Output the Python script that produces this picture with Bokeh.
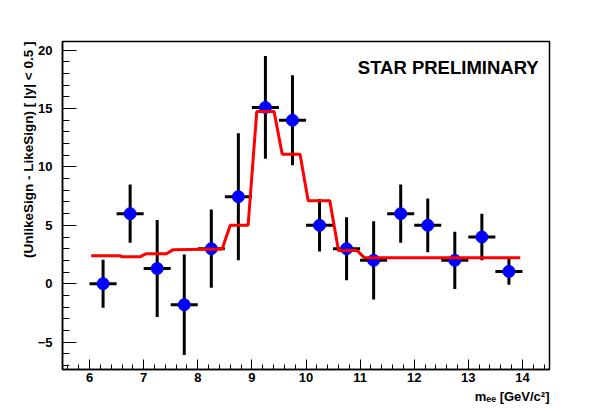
import math
from bokeh.plotting import figure
from bokeh.models import ColumnDataSource, Label, SingleIntervalTicker, Range1d, Title
from bokeh.embed import file_html
from bokeh.resources import INLINE

# ---- data ----
bin_centers = [6.25, 6.75, 7.25, 7.75, 8.25, 8.75, 9.25, 9.75,
               10.25, 10.75, 11.25, 11.75, 12.25, 12.75, 13.25, 13.75]
signal = [0.0, 6.0, 1.3, -1.8, 3.0, 7.45, 15.1, 14.0,
          5.0, 3.0, 2.0, 6.0, 5.0, 2.0, 4.0, 1.05]
signal_err = [2.05, 2.5, 4.15, 4.3, 3.35, 5.45, 4.4, 3.85,
              2.25, 2.7, 3.35, 2.5, 2.3, 2.45, 2.0, 1.15]
bin_half_width = 0.25

fit_x = [6.03, 6.56, 6.6, 6.93, 7.05, 7.42, 7.54, 8.45, 8.6, 8.93,
         9.09, 9.41, 9.56, 9.89, 10.04, 10.44, 10.6, 10.94, 11.08, 13.96]
fit_y = [2.4, 2.4, 2.3, 2.3, 2.57, 2.57, 2.9, 2.97, 5.0, 5.0,
         14.75, 14.75, 11.1, 11.1, 7.1, 7.1, 2.85, 2.85, 2.23, 2.23]

x_min, x_max = 5.5, 14.5
y_min, y_max = -7.35, 20.75

x_title = "m\u2091\u2091 [GeV/c\u00b2]"
y_title = "(UnlikeSign - LikeSign) [ |y| < 0.5 ]"

FONT = "Liberation Sans"

src = ColumnDataSource(dict(
    x=bin_centers,
    y=signal,
    ylo=[v - e for v, e in zip(signal, signal_err)],
    yhi=[v + e for v, e in zip(signal, signal_err)],
    xlo=[c - bin_half_width for c in bin_centers],
    xhi=[c + bin_half_width for c in bin_centers],
))

p = figure(width=611, height=411, output_backend="svg", toolbar_location=None,
           x_range=Range1d(x_min, x_max), y_range=Range1d(y_min, y_max),
           min_border_left=62, min_border_right=62,
           min_border_top=41, min_border_bottom=42)
p.background_fill_color = "white"
p.border_fill_color = "white"
p.outline_line_color = "black"
p.outline_line_width = 1.5
p.xgrid.visible = False
p.ygrid.visible = False

# axes
p.xaxis.ticker = SingleIntervalTicker(interval=1, num_minor_ticks=5)
p.yaxis.ticker = SingleIntervalTicker(interval=5, num_minor_ticks=5)
for ax in (p.xaxis[0], p.yaxis[0]):
    ax.axis_line_color = "black"
    ax.axis_line_width = 1.5
    ax.major_tick_line_color = "black"
    ax.minor_tick_line_color = "black"
    ax.major_tick_out = 0
    ax.minor_tick_out = 0
    ax.major_label_text_font = FONT
    ax.major_label_text_font_style = "bold"
    ax.major_label_text_font_size = "13px"
    ax.major_label_text_color = "black"
p.xaxis.major_tick_in = 10
p.xaxis.minor_tick_in = 5
p.xaxis.major_label_standoff = 3
p.yaxis.major_tick_in = 14
p.yaxis.minor_tick_in = 7
p.yaxis.major_label_standoff = 10

# axis titles (right/top aligned as in the reference)
p.add_layout(Title(text=y_title, align="right", standoff=-3, text_font=FONT,
                   text_font_style="bold", text_font_size="13.5px",
                   text_color="black"), "left")
p.add_layout(Title(text=x_title, align="right", standoff=4, text_font=FONT,
                   text_font_style="bold", text_font_size="13px",
                   text_color="black"), "below")

# error bars
p.segment(x0="x", y0="ylo", x1="x", y1="yhi", source=src, line_color="black", line_width=3)
p.segment(x0="xlo", y0="y", x1="xhi", y1="y", source=src, line_color="black", line_width=3)
# markers
p.scatter(x="x", y="y", source=src, size=12, marker="circle",
          fill_color="#0000ff", line_color="#0000ff")
# fit line
p.line(fit_x, fit_y, line_color="#ff0000", line_width=3)

# texts
p.add_layout(Label(x=14.3, y=18.5, text="STAR PRELIMINARY", text_align="right",
                   text_baseline="alphabetic", text_font=FONT, text_font_style="bold",
                   text_font_size="18.5px", text_color="black"))

open("out.html", "w").write(file_html(p, INLINE))
